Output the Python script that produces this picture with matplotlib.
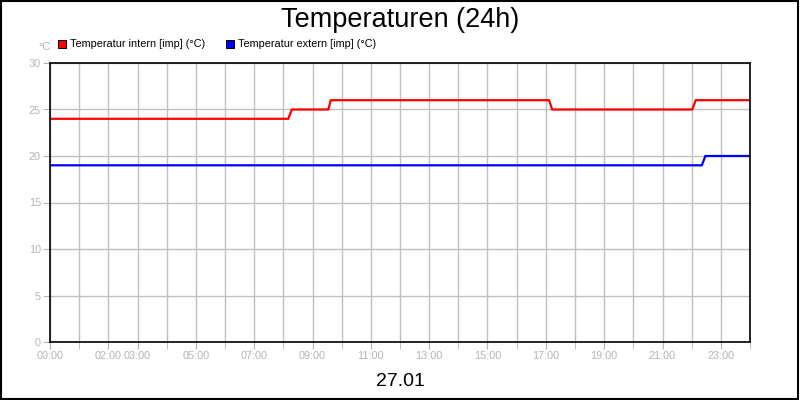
import matplotlib
matplotlib.use("Agg")
import matplotlib.pyplot as plt
from matplotlib.patches import Rectangle

plt.rcParams['font.family'] = ['Liberation Sans', 'DejaVu Sans']

# Data (hours since 00:00 of 27.01)
intern_t = [0.0, 8.17, 8.29, 9.54, 9.63, 17.11, 17.22, 22.02, 22.14, 23.95]
intern_v = [24, 24, 25, 25, 26, 26, 25, 25, 26, 26]
extern_t = [0.0, 22.35, 22.47, 23.95]
extern_v = [19, 19, 20, 20]

tick_hours = [0, 2, 3, 5, 7, 9, 11, 13, 15, 17, 19, 21, 23]
tick_labels = ["%02d:00" % h for h in tick_hours]
yticks = [0, 5, 10, 15, 20, 25, 30]

grey = "#b4b4b4"

fig = plt.figure(figsize=(8, 4), dpi=100)
ax = fig.add_axes([50 / 800, 58 / 400, 700 / 800, 279 / 400])

ax.plot(intern_t, intern_v, color="#ff0000", lw=1.6, solid_joinstyle="miter")
ax.plot(extern_t, extern_v, color="#0000ff", lw=1.6, solid_joinstyle="miter")

ax.set_xlim(0, 24)
ax.set_ylim(0, 30)
ax.set_xticks(range(0, 25), minor=True)
ax.set_xticks(tick_hours)
ax.set_xticklabels(tick_labels)
ax.set_yticks(yticks)
ax.grid(True, which="both", axis="x", color="#c0c0c0", lw=1)
ax.grid(True, which="major", axis="y", color="#c0c0c0", lw=1)
ax.set_axisbelow(True)
ax.tick_params(which="both", direction="out", length=5, color=grey,
               labelcolor=grey, labelsize=7.8, pad=1.5)
for s in ax.spines.values():
    s.set_color("black")
    s.set_linewidth(1.2)

fig.text(0.5, 0.95, "Temperaturen (24h)", ha="center", va="center", fontsize=19.5)
fig.text(0.5, 0.046, "27.01", ha="center", va="center", fontsize=14)
fig.text(44 / 800, 1 - 47 / 400, "°C", ha="center", va="center", fontsize=7.8, color=grey)

# legend boxes
fig.patches.append(Rectangle((58 / 800, 1 - 48 / 400), 8 / 800, 8 / 400,
                             facecolor="#ff0000", edgecolor="black", lw=0.7,
                             transform=fig.transFigure))
fig.text(70 / 800, 1 - 44 / 400, "Temperatur intern [imp] (°C)", ha="left",
         va="center", fontsize=7.8)
fig.patches.append(Rectangle((226 / 800, 1 - 48 / 400), 8 / 800, 8 / 400,
                             facecolor="#0000ff", edgecolor="black", lw=0.7,
                             transform=fig.transFigure))
fig.text(238 / 800, 1 - 44 / 400, "Temperatur extern [imp] (°C)", ha="left",
         va="center", fontsize=7.8)

# outer frame
fig.patches.append(Rectangle((0.001, 0.002), 0.997, 0.995, fill=False,
                             edgecolor="black", lw=1.5, transform=fig.transFigure))

fig.savefig("out.png", dpi=100)
